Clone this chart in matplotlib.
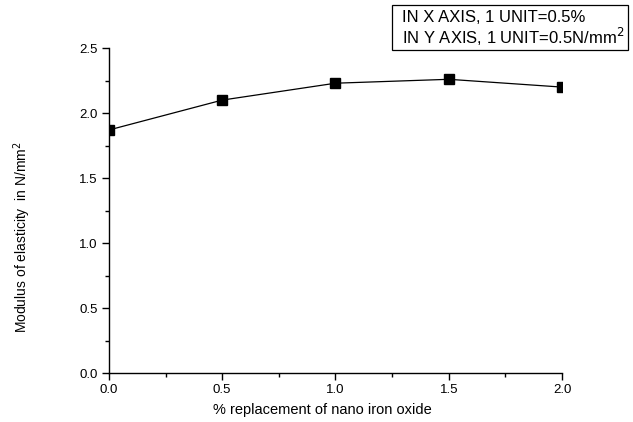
import matplotlib
matplotlib.use("Agg")
import matplotlib.pyplot as plt
from matplotlib.ticker import MultipleLocator
from matplotlib.patches import Rectangle

plt.rcParams['font.family'] = ['Liberation Sans', 'DejaVu Sans']

x_vals = [0.0, 0.5, 1.0, 1.5, 2.0]
y_vals = [1.87, 2.10, 2.23, 2.26, 2.20]
x_ticks = [0.0, 0.5, 1.0, 1.5, 2.0]
y_ticks = [0.0, 0.5, 1.0, 1.5, 2.0, 2.5]
note_lines = ['IN X AXIS, 1 UNIT=0.5%', 'IN Y AXIS, 1 UNIT=0.5N/mm$^2$']

fig = plt.figure(figsize=(6.33, 4.22), dpi=100)
ax = fig.add_axes([0.172, 0.116, 0.716, 0.770])
ax.plot(x_vals, y_vals, color='black', lw=0.9, marker='s', ms=7.5,
        mfc='black', mec='black')
ax.set_xlim(0, 2.0)
ax.set_ylim(0, 2.5)
ax.set_xticks(x_ticks)
ax.set_yticks(y_ticks)
ax.set_xticklabels([f"{v:.1f}" for v in x_ticks])
ax.set_yticklabels([f"{v:.1f}" for v in y_ticks])
ax.xaxis.set_minor_locator(MultipleLocator(0.25))
ax.yaxis.set_minor_locator(MultipleLocator(0.25))
for s in ['top', 'right']:
    ax.spines[s].set_visible(False)
for s in ['left', 'bottom']:
    ax.spines[s].set_linewidth(1.0)
ax.tick_params(which='major', direction='out', length=5, width=1,
               labelsize=9.5, pad=3)
ax.tick_params(which='minor', direction='out', length=3, width=1)
ax.set_xlabel('% replacement of nano iron oxide', fontsize=10.5)
ax.xaxis.set_label_coords(0.472, -0.093)
ax.set_ylabel('Modulus of elasticity  in N/mm$^2$', fontsize=10)
ax.yaxis.set_label_coords(-0.167, 0.418)

fig.patches.append(Rectangle((392 / 633, 1 - 50 / 422), 236 / 633, 45 / 422,
                             transform=fig.transFigure, fc='white',
                             ec='black', lw=0.9))
fig.text(402 / 633, 1 - 17 / 422, note_lines[0], fontsize=12,
         va='center', ha='left')
fig.text(402 / 633, 1 - 37 / 422, note_lines[1], fontsize=12,
         va='center', ha='left')

fig.savefig('out.png', dpi=100)
